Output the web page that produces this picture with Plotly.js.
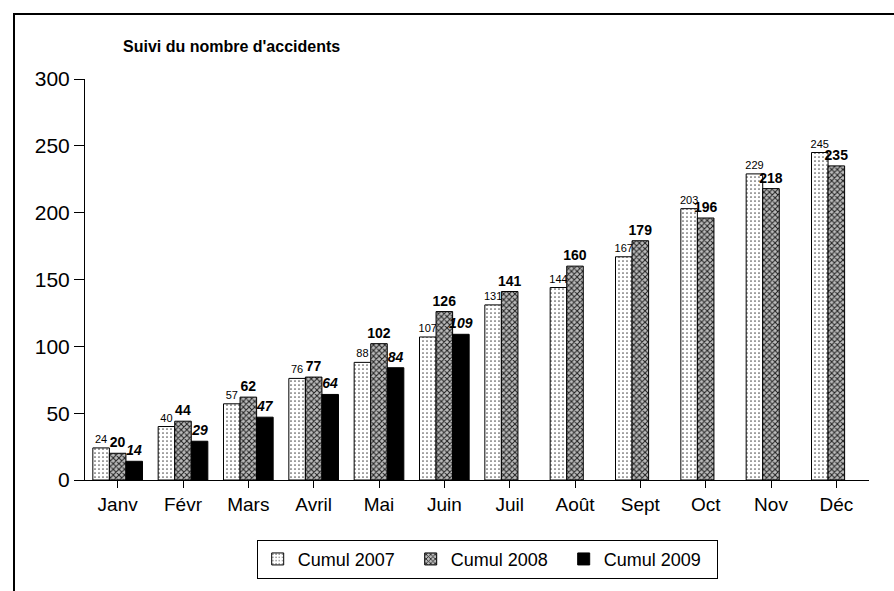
<!DOCTYPE html>
<html>
<head>
<meta charset="utf-8">
<script src="https://cdn.plot.ly/plotly-3.0.1.min.js"></script>
<style>
html,body{margin:0;padding:0;background:#fff;overflow:hidden;}
#chart{width:894px;height:591px;}
#frame{position:absolute;left:13px;top:13px;width:1000px;height:700px;border-left:2px solid #000;border-top:2px solid #000;pointer-events:none;}
</style>
</head>
<body>
<div id="chart"></div>
<div id="frame"></div>
<script>
const months = ["Janv","Févr","Mars","Avril","Mai","Juin","Juil","Août","Sept","Oct","Nov","Déc"];
const cumul2007 = [24,40,57,76,88,107,131,144,167,203,229,245];
const cumul2008 = [20,44,62,77,102,126,141,160,179,196,218,235];
const cumul2009 = [14,29,47,64,84,109,null,null,null,null,null,null];
const seriesNames = ["Cumul 2007","Cumul 2008","Cumul 2009"];
const yTicks = [0,50,100,150,200,250,300];

const FONT = "Liberation Sans, Arial, sans-serif";

const traces = [
  {
    type:"bar", name:seriesNames[0], x:months, y:cumul2007,
    text:cumul2007.map(v=>v==null?"":String(v)), textposition:"outside",
    textfont:{family:FONT,size:11,color:"#000"}, constraintext:"none", cliponaxis:false,
    marker:{color:"#fff",line:{color:"#000",width:1},
      pattern:{shape:".",fgcolor:"#555",bgcolor:"#fff",size:4,solidity:0.15}}
  },
  {
    type:"bar", name:seriesNames[1], x:months, y:cumul2008,
    text:cumul2008.map(v=>v==null?"":String(v)), textposition:"outside",
    textfont:{family:FONT,size:14,color:"#000",weight:"bold"}, constraintext:"none", cliponaxis:false,
    marker:{color:"#fff",line:{color:"#000",width:1},
      pattern:{shape:"x",fgcolor:"#222",bgcolor:"#bbb",size:4,solidity:0.45}}
  },
  {
    type:"bar", name:seriesNames[2], x:months, y:cumul2009,
    text:cumul2009.map(v=>v==null?"":String(v)), textposition:"outside",
    textfont:{family:FONT,size:14,color:"#000",weight:"bold",style:"italic"}, constraintext:"none", cliponaxis:false,
    marker:{color:"#000",line:{color:"#000",width:1}}
  }
];

const layout = {
  width:894, height:591,
  paper_bgcolor:"#fff", plot_bgcolor:"#fff",
  margin:{l:85,r:25,t:79,b:108},
  barmode:"group", bargap:0.24, bargroupgap:0,
  font:{family:FONT,color:"#000"},
  title:{text:"<b>Suivi du nombre d'accidents</b>", font:{family:FONT,size:16,color:"#000"},
    xref:"container", yref:"container", x:123/894, xanchor:"left", y:1-46/591, yanchor:"middle"},
  xaxis:{type:"category", showline:true, linecolor:"#000", linewidth:1, ticks:"outside", ticklen:7,
    tickcolor:"#000", tickfont:{family:FONT,size:19,color:"#000"}, showgrid:false, zeroline:false, fixedrange:true},
  yaxis:{range:[0,300], tickvals:yTicks, showline:true, linecolor:"#000", linewidth:1, ticks:"outside",
    ticklen:10, tickcolor:"#000", tickfont:{family:FONT,size:21,color:"#000"}, showgrid:false, zeroline:false, fixedrange:true},
  showlegend:true,
  legend:{orientation:"h", x:0.513, xanchor:"center", y:-0.149, yanchor:"top",
    entrywidth:108, entrywidthmode:"pixels",
    bordercolor:"#000", borderwidth:1, bgcolor:"#fff", font:{family:FONT,size:18,color:"#000"}},
  hovermode:false
};

Plotly.newPlot("chart", traces, layout, {staticPlot:true, displayModeBar:false});
</script>
</body>
</html>
